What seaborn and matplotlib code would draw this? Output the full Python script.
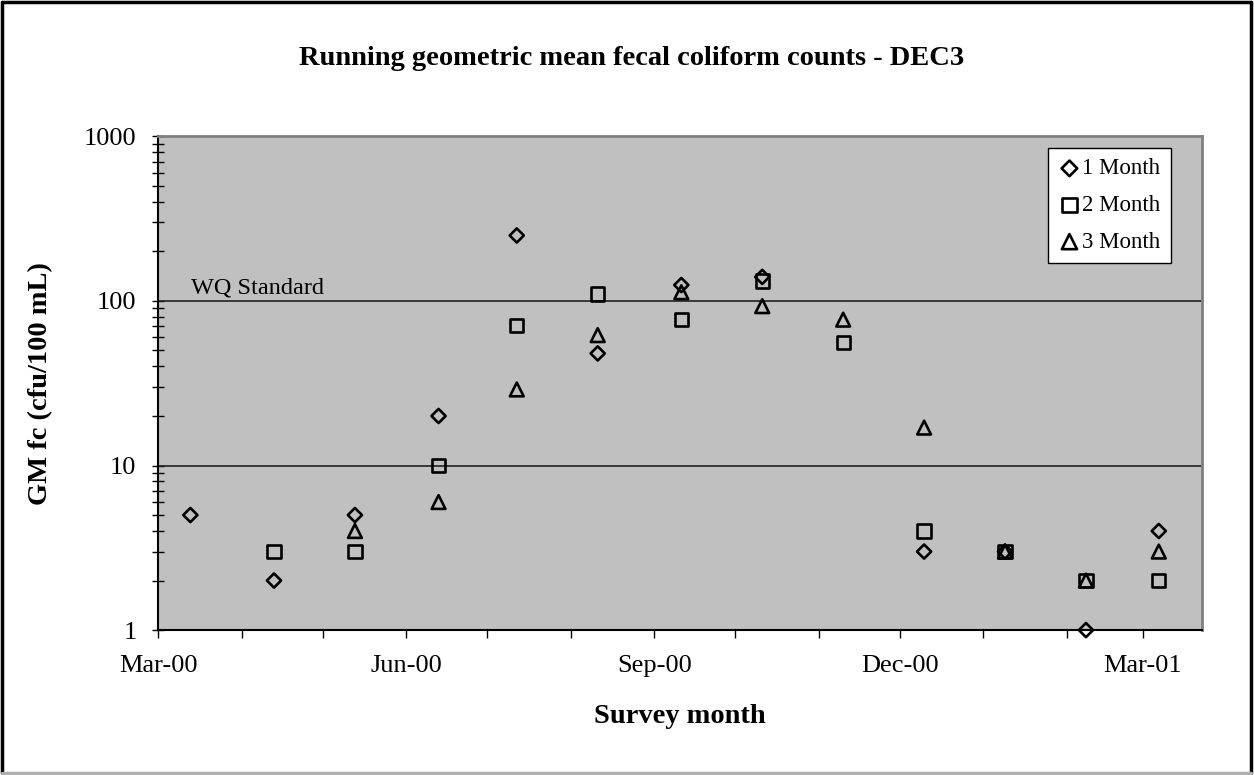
import matplotlib

matplotlib.use("Agg")
import matplotlib.dates as mdates
import matplotlib.pyplot as plt
import matplotlib.ticker as mticker
import numpy as np
import pandas as pd
import seaborn as sns
from matplotlib.lines import Line2D

survey_dates = [
    "2000-03-13", "2000-04-13", "2000-05-13", "2000-06-13", "2000-07-12",
    "2000-08-11", "2000-09-11", "2000-10-11", "2000-11-10", "2000-12-10",
    "2001-01-09", "2001-02-08", "2001-03-07",
]
gm_1_month = [5, 2, 5, 20, 250, 48, 125, 140, np.nan, 3, 3, 1, 4]
gm_2_month = [np.nan, 3, 3, 10, 71, 110, 77, 132, 56, 4, 3, 2, 2]
gm_3_month = [np.nan, np.nan, 4, 6, 29, 62, 113, 93, 77, 17, 3, 2, 3]

series_names = ["1 Month", "2 Month", "3 Month"]
series_markers = {"1 Month": "D", "2 Month": "s", "3 Month": "^"}
series_sizes = {"1 Month": 52, "2 Month": 92, "3 Month": 98}

wq_standard = 100
wq_label = "WQ Standard"


def main() -> None:
    sns.set_theme(style="white")
    plt.rcParams["font.family"] = ["Liberation Serif", "DejaVu Serif"]
    plt.rcParams["text.color"] = "black"
    plt.rcParams["axes.labelcolor"] = "black"
    plt.rcParams["xtick.color"] = "black"
    plt.rcParams["ytick.color"] = "black"

    dates = pd.to_datetime(survey_dates)
    df = pd.DataFrame(
        {"date": dates, "1 Month": gm_1_month, "2 Month": gm_2_month, "3 Month": gm_3_month}
    )

    fig = plt.figure(figsize=(12.54, 7.75), dpi=100)
    ax = fig.add_axes([0.126, 0.187, 0.8325, 0.637])
    ax.set_facecolor("#c0c0c0")

    for name in series_names:
        sub = df[["date", name]].dropna()
        sns.scatterplot(
            data=sub,
            x="date",
            y=name,
            marker=series_markers[name],
            s=series_sizes[name],
            facecolor="none",
            edgecolor="black",
            linewidth=1.9,
            label=name,
            ax=ax,
            zorder=3,
            clip_on=False,
        )

    ax.set_yscale("log")
    ax.set_ylim(1, 1000)
    ax.set_xlim(pd.Timestamp("2000-03-01"), pd.Timestamp("2001-03-23"))

    # horizontal reference lines at the major decades
    for level in [10, 100]:
        ax.axhline(level, color="#222222", lw=1.2, zorder=1)
    ax.text(0.032, wq_standard * 1.03, wq_label, transform=ax.get_yaxis_transform(),
            fontsize=17.5, va="bottom", ha="left")

    ax.xaxis.set_major_locator(mdates.MonthLocator(bymonth=[3, 6, 9, 12], bymonthday=1))
    ax.xaxis.set_minor_locator(mdates.MonthLocator(bymonthday=1))
    ax.xaxis.set_major_formatter(mdates.DateFormatter("%b-%y"))
    ax.yaxis.set_major_locator(mticker.LogLocator(base=10))
    ax.yaxis.set_minor_locator(mticker.LogLocator(base=10, subs=np.arange(2, 10)))
    ax.yaxis.set_major_formatter(mticker.FuncFormatter(lambda v, _: f"{v:g}"))
    ax.yaxis.set_minor_formatter(mticker.NullFormatter())

    ax.tick_params(axis="x", which="both", direction="out", length=6, width=1,
                   labelsize=19, pad=12, bottom=True)
    ax.tick_params(axis="y", which="both", direction="inout", length=9, width=1,
                   labelsize=19, pad=11, left=True)

    for side in ["left", "bottom"]:
        ax.spines[side].set_color("black")
        ax.spines[side].set_linewidth(1.5)
    for side in ["top", "right"]:
        ax.spines[side].set_color("#808080")
        ax.spines[side].set_linewidth(2)

    ax.set_xlabel("Survey month", fontsize=20.5, fontweight="bold")
    ax.xaxis.set_label_coords(0.5, -0.15)
    ax.set_ylabel("GM fc (cfu/100 mL)", fontsize=20.5, fontweight="bold")
    ax.yaxis.set_label_coords(-0.1, 0.5)

    leg = ax.legend(loc="upper right", bbox_to_anchor=(0.9335, 0.809),
                    bbox_transform=fig.transFigure, fontsize=16.5, frameon=True,
                    fancybox=False, edgecolor="black", framealpha=1,
                    handletextpad=0.05, handlelength=1.0, borderpad=0.45,
                    labelspacing=0.68, borderaxespad=0, markerscale=1.1)
    leg.get_frame().set_linewidth(1)

    fig.text(0.504, 0.924, "Running geometric mean fecal coliform counts - DEC3",
             ha="center", va="center", fontsize=20.5, fontweight="bold")

    # chart-area frame: dark on top/left/right, light grey along the bottom
    frame = [
        ((0.0015, 0.0015), (0.002, 0.998), "black"),
        ((0.0015, 0.9975), (0.998, 0.998), "black"),
        ((0.9975, 0.9975), (0.998, 0.002), "black"),
        ((0.0015, 0.9975), (0.002, 0.002), "#b0b0b0"),
    ]
    for xs, ys, col in frame:
        fig.lines.append(Line2D(xs, ys, transform=fig.transFigure, color=col, lw=2.5))

    fig.savefig("out.png", dpi=100)
    plt.close(fig)


if __name__ == "__main__":
    main()
